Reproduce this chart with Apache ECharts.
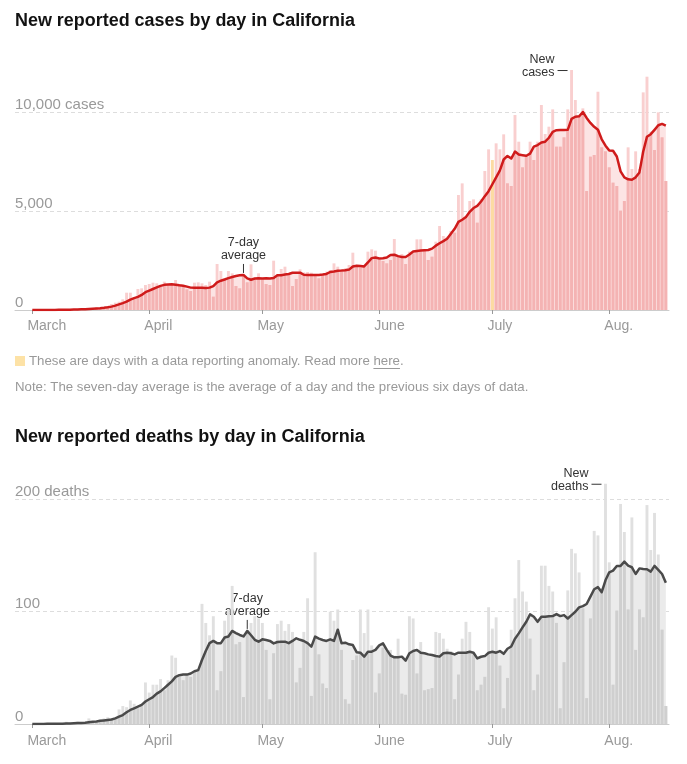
<!DOCTYPE html>
<html><head><meta charset="utf-8">
<script src="https://cdn.jsdelivr.net/npm/echarts@6/dist/echarts.min.js"></script>
<style>html,body{margin:0;padding:0;background:#fff}#c{width:687px;height:764px}</style>
</head><body><div id="c"></div>
<script>
// ---------- DATA (day index 0 = March 1, 2020; last = Aug 16) ----------
const monthTicks  = [0, 31, 61, 92, 122, 153];
const monthLabels = ['March', 'April', 'May', 'June', 'July', 'Aug.'];
const anomalyDays = [122];

const casesDaily = [
  1,2,3,1,7,9,8,30,14,26,
  20,45,40,60,70,90,100,130,125,135,
  202,303,370,420,540,875,875,620,1060,1094,
  1262,1313,1380,1347,1178,1431,1262,1262,1515,1313,
  1178,1044,960,1380,1397,1347,1263,1431,673,2323,
  1970,1600,1970,1852,1212,1094,1683,1397,2306,1565,
  1852,1633,1313,1263,2491,1818,2070,2188,1818,1212,
  1565,2053,1902,1919,1885,1818,1600,1818,1936,2020,
  2356,2188,1936,2104,2272,2895,2222,2150,2188,2946,
  3063,2997,2525,2474,2356,2525,3586,2693,2828,2323,
  2946,2862,3569,3569,3080,2525,2693,3451,4242,3737,
  3703,3989,3905,5807,6396,4713,5504,5588,4410,5588,
  7020,8114,7575,8417,8114,8872,6396,6262,9847,8501,
  7205,7827,8501,7575,8501,10353,8888,9258,10134,8248,
  8248,8720,10134,12120,10605,9763,10184,6009,7743,7827,
  11024,8215,8013,7205,6430,6262,5016,5504,8215,7121,
  8013,7121,10991,11783,9005,8080,9982,8720,6514
];
const casesAvg = [
  1,1,2,2,3,4,5,8,10,12,
  16,20,25,32,40,50,62,75,90,110,
  135,170,220,285,350,420,520,600,660,760,
  900,980,1060,1140,1220,1270,1290,1295,1280,1250,
  1225,1180,1130,1120,1130,1125,1110,1130,1210,1400,
  1480,1540,1610,1670,1720,1750,1770,1600,1530,1590,
  1600,1595,1600,1590,1620,1760,1760,1790,1820,1880,
  1880,1885,1780,1770,1765,1770,1770,1790,1820,1920,
  1940,1980,1990,2010,2040,2200,2230,2220,2200,2400,
  2620,2650,2600,2610,2650,2780,2790,2720,2680,2680,
  2800,2950,2980,3000,3020,3030,3100,3250,3370,3480,
  3600,3850,4100,4450,4560,4700,4960,5150,5260,5480,
  5750,6000,6350,6700,7050,7600,7780,7650,8000,7850,
  7820,7790,7900,8250,8330,8460,8500,8700,9000,9080,
  9090,9090,9100,9650,9760,9780,10000,9700,9450,9250,
  9100,8620,8300,8050,8040,7750,7000,6700,6600,6580,
  6700,6950,8000,8750,8880,9100,9330,9400,9310
];
const deathsDaily = [
  0,0,0,0,1,0,1,0,0,2,
  0,1,2,1,1,5,2,2,4,5,
  6,5,6,13,16,15,21,18,14,18,
  37,28,35,35,40,30,39,61,59,42,
  39,45,42,47,48,107,90,79,96,30,
  47,92,102,123,71,73,24,83,90,96,
  94,90,66,22,63,89,92,83,89,82,
  37,50,82,112,25,153,62,36,32,100,
  92,102,66,22,18,57,61,102,81,102,
  70,28,45,68,65,66,61,76,27,26,
  96,94,45,73,30,31,32,82,81,76,
  67,65,22,44,76,91,82,63,30,35,
  42,104,85,95,52,14,41,84,112,146,
  118,109,76,30,44,141,141,123,118,90,
  14,55,119,156,152,135,103,23,94,172,
  168,121,214,144,35,101,196,171,102,184,
  66,102,95,195,155,188,151,84,16
];
const deathsAvg = [
  0,0,0,0,0.2,0.2,0.3,0.3,0.3,0.5,
  0.5,0.7,0.9,1,1.2,1.6,2,2.3,2.8,3.2,
  3.6,4,5,6.5,8,10.5,12.5,14,15.5,17,
  20,22,24,27,29,32,35,38,42,43.5,
  44,44,45,47,48,57,65,72,74,72,
  72,77,78,82.9,81,79.3,78,82.9,79,75,
  73.3,75.4,74.8,74,71.8,73,73.3,73.3,72,74,
  76.3,75,73.9,72,68.9,77.8,76,74.8,74,75.4,
  74,84,72,72.4,71,70.3,64,63.5,60,64.4,
  64.4,66,70,71.8,66,61,59.4,59.5,60,56.4,
  63,65,66,63.5,63,62,61.4,60.5,60,63,
  63.5,63,62,63.5,63.5,63.5,64.4,63.5,58.4,59.9,
  60.5,63.5,64.4,63.5,65,62.5,67,69,76,80.7,
  86,91.1,97.6,95.5,91,95.5,95.5,96,96.1,97.9,
  96.1,97,94,97,100,103.9,105,106.9,113.4,120,
  121.9,117.4,128,135.1,136.6,140.8,140.8,144.6,141,139.6,
  133.6,138.6,138,137.8,135.7,140.8,137.2,133.6,125.9
];

// ---------- STYLE ----------
const TEXT_FONT = '"Liberation Sans", Arial, sans-serif';
const GRAY = '#999999';
const X_MIN = -4.59, X_MAX = 168.84;
const LABEL_SHIFT = 1.3;

const mctx = document.createElement('canvas').getContext('2d');
function fontAvailable(name) {
  const s = 'New reported cases by day in California';
  mctx.font = 'bold 20px monospace'; const a = mctx.measureText(s).width;
  mctx.font = 'bold 20px "' + name + '", monospace'; const b = mctx.measureText(s).width;
  return Math.abs(a - b) > 0.5;
}
const TITLE_FAMILY = fontAvailable('Liberation Sans Narrow') ? '"Liberation Sans Narrow"' : '"Liberation Sans", Arial';
function fitSize(text, target) {
  mctx.font = 'bold 20px ' + TITLE_FAMILY;
  return 20 * target / mctx.measureText(text).width;
}
const title1 = 'New reported cases by day in California';
const title2 = 'New reported deaths by day in California';

function xAxisFor(gi, margin) {
  return {
    type: 'value', gridIndex: gi, min: X_MIN, max: X_MAX,
    axisLine: { show: true, onZero: false, lineStyle: { color: '#cccccc', width: 1 } },
    axisTick: { show: true, customValues: monthTicks, length: 4, lineStyle: { color: '#999' } },
    axisLabel: {
      customValues: monthTicks.map(t => t - LABEL_SHIFT),
      formatter: v => { const k = monthTicks.findIndex(t => Math.abs(t - LABEL_SHIFT - v) < 0.01); return k >= 0 ? monthLabels[k] : ''; },
      align: 'left', margin: margin, color: GRAY, fontSize: 14, fontFamily: TEXT_FONT
    },
    splitLine: { show: false }
  };
}
function yAxisFor(gi, max, interval, labels, fmt) {
  return {
    type: 'value', gridIndex: gi, min: 0, max: max, interval: interval,
    axisLine: { show: false }, axisTick: { show: false },
    splitLine: { show: true, showMinLine: false, showMaxLine: false, lineStyle: { color: '#dddddd', type: [4, 3], width: 1 } },
    axisLabel: {
      inside: true, margin: 0, customValues: labels, verticalAlign: 'bottom', lineHeight: 15,
      color: GRAY, fontSize: 15, fontFamily: TEXT_FONT, formatter: fmt
    }
  };
}

function seriesFor(gi, daily, avg, c) {
  const mark = (i, item) => {
    if (c.anomaly && anomalyDays.includes(i)) item.itemStyle = { color: c.anomaly };
    return item;
  };
  // full bar (light: the part that rises above the average stays visible)
  const full = daily.map((v, i) => mark(i, { value: [i, v] }));
  // part of the bar under the 7-day average (darker)
  const lo = daily.map((v, i) => mark(i, { value: [i, Math.min(v, avg[i])] }));
  const line = avg.map((v, i) => [i, v]);
  return [
    { type: 'line', xAxisIndex: gi, yAxisIndex: gi, data: line, symbol: 'none', silent: true, z: 1,
      lineStyle: { width: 0 }, areaStyle: { color: c.area, opacity: 1 } },
    { type: 'bar', xAxisIndex: gi, yAxisIndex: gi, data: full, barWidth: 2.9, barGap: '-100%', z: 2,
      itemStyle: { color: c.hi } },
    { type: 'bar', xAxisIndex: gi, yAxisIndex: gi, data: lo, barWidth: 2.9, barGap: '-100%', z: 3,
      itemStyle: { color: c.lo } },
    { type: 'line', xAxisIndex: gi, yAxisIndex: gi, data: line, symbol: 'none', silent: true, z: 4,
      lineStyle: { color: c.line, width: 2.5, join: 'round' } }
  ];
}

const chart = echarts.init(document.getElementById('c'), null, { renderer: 'canvas' });
const option = {
  animation: false,
  backgroundColor: '#ffffff',
  title: [
    { text: title1, left: 15, top: 12, padding: 0,
      textStyle: { fontSize: fitSize(title1, 340), fontWeight: 'bold', color: '#121212', fontFamily: TITLE_FAMILY } },
    { text: title2, left: 15, top: 428, padding: 0,
      textStyle: { fontSize: fitSize(title2, 350), fontWeight: 'bold', color: '#121212', fontFamily: TITLE_FAMILY } }
  ],
  grid: [
    { left: 15, right: 18, top: 68.44, height: 241.56 },
    { left: 15, right: 18, top: 477, height: 247 }
  ],
  xAxis: [xAxisFor(0, 9), xAxisFor(1, 10)],
  yAxis: [
    yAxisFor(0, 12200, 5000, [0, 5000, 10000], v => v === 10000 ? '10,000 cases' : v.toLocaleString('en-US')),
    yAxisFor(1, 220, 100, [0, 100, 200], v => v === 200 ? '200 deaths' : String(v))
  ],
  series: [
    ...seriesFor(0, casesDaily, casesAvg, { area: '#fce4e4', lo: '#f4b3b3', hi: '#f9cfcf', line: '#cf1b1b', anomaly: '#fcdba2' }),
    ...seriesFor(1, deathsDaily, deathsAvg, { area: '#ebebeb', lo: '#cfcfcf', hi: '#e0e0e0', line: '#4a4a4a' })
  ]
};
chart.setOption(option);

// ---------- annotations & notes ----------
const ANN = { fill: '#333', fontSize: 12.5, fontFamily: TEXT_FONT, lineHeight: 13 };
function avgLabel(gi, day, avg) {
  const p = chart.convertToPixel({ gridIndex: gi }, [day, avg[day]]);
  return [
    { type: 'line', shape: { x1: p[0], y1: p[1] - 11, x2: p[0], y2: p[1] - 2 }, style: { stroke: '#333', lineWidth: 1 } },
    { type: 'text', x: p[0], y: p[1] - 13, style: Object.assign({ text: '7-day\naverage', align: 'center', verticalAlign: 'bottom' }, ANN) }
  ];
}
function newLabel(gi, day, daily, word) {
  const p = chart.convertToPixel({ gridIndex: gi }, [day, daily[day]]);
  return [
    { type: 'line', shape: { x1: p[0] - 14, y1: p[1] + 0.5, x2: p[0] - 4, y2: p[1] + 0.5 }, style: { stroke: '#333', lineWidth: 1 } },
    { type: 'text', x: p[0] - 17, y: p[1] + 9, style: Object.assign({ text: 'New\n' + word, align: 'right', verticalAlign: 'bottom' }, ANN) }
  ];
}
const NOTE_SIZE = 13.25;
const noteFont = NOTE_SIZE + 'px ' + TEXT_FONT;
mctx.font = noteFont;
const part1 = 'These are days with a data reporting anomaly. Read more ';
const w1 = mctx.measureText(part1).width;
const wHere = mctx.measureText('here').width;
const NOTE = { fill: GRAY, fontSize: NOTE_SIZE, fontFamily: TEXT_FONT, verticalAlign: 'middle' };
const graphics = [
  ...avgLabel(0, 56, casesAvg),
  ...avgLabel(1, 57, deathsAvg),
  ...newLabel(0, 143, casesDaily, 'cases'),
  ...newLabel(1, 152, deathsDaily, 'deaths'),
  { type: 'rect', shape: { x: 15, y: 356, width: 10, height: 10 }, style: { fill: '#fde2a6' } },
  { type: 'text', x: 29, y: 361, style: Object.assign({ text: part1 }, NOTE) },
  { type: 'text', x: 29 + w1, y: 361, style: Object.assign({ text: 'here' }, NOTE) },
  { type: 'line', shape: { x1: 29 + w1, y1: 368.5, x2: 29 + w1 + wHere, y2: 368.5 }, style: { stroke: GRAY, lineWidth: 1 } },
  { type: 'text', x: 29 + w1 + wHere, y: 361, style: Object.assign({ text: '.' }, NOTE) },
  { type: 'text', x: 15, y: 387, style: Object.assign({ text: 'Note: The seven-day average is the average of a day and the previous six days of data.' }, NOTE) }
];
chart.setOption({ graphic: graphics });
</script>
</body></html>
